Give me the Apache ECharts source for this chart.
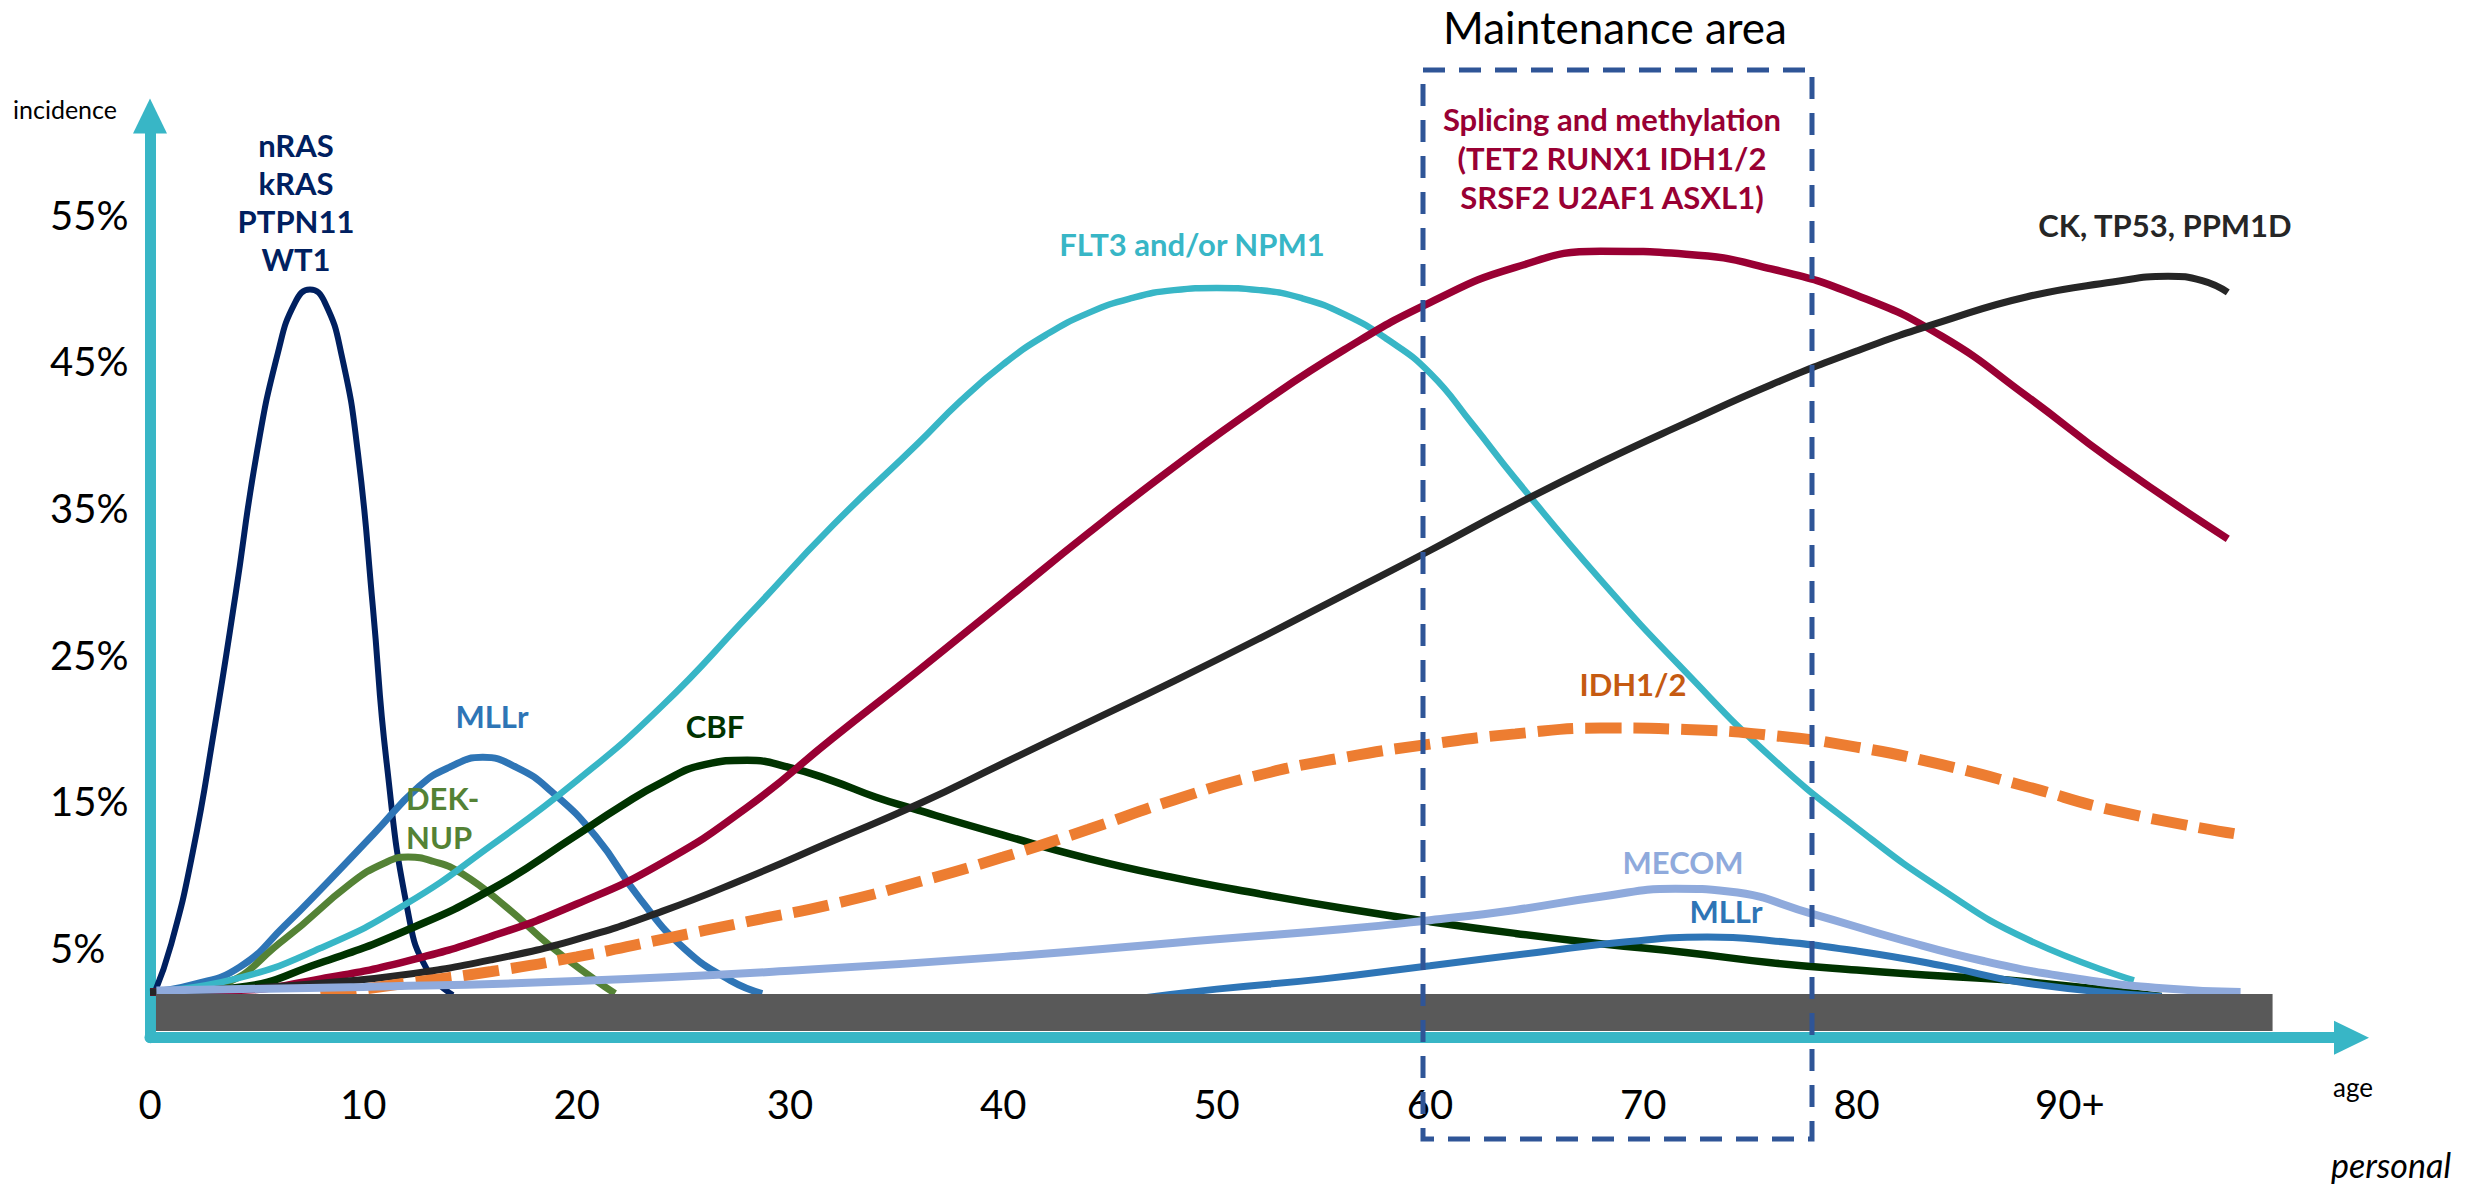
<!DOCTYPE html>
<html>
<head>
<meta charset="utf-8">
<script src="https://cdn.jsdelivr.net/npm/echarts@6/dist/echarts.min.js"></script>
<style>
html,body{margin:0;padding:0;background:#fff;}
#chart{width:2481px;height:1188px;}
</style>
</head>
<body>
<div id="chart"></div>
<script>
// ---- data (age, incidence %) ----
const xTickValues = [0, 10, 20, 30, 40, 50, 60, 70, 80, 90];
const xTickLabels = ['0', '10', '20', '30', '40', '50', '60', '70', '80', '90+'];
const yTickValues = [5, 15, 25, 35, 45, 55];

const rasData = [[0.2,1.9],[1,5.3],[2,11.5],[3,19.8],[4,29],[5,38.7],[6,45.6],[6.8,49],[7.5,49.9],[8.2,49],[9,45.3],[9.75,38.7],[10.45,28.2],[11.08,17.8],[12.1,7.4],[13,3.5],[14.2,1.8]];
const mllrEarly = [[0,2],[2,2.5],[4.2,3.7],[6.3,6.5],[8.4,9.6],[10.5,12.8],[12.6,16],[14,17.3],[15.6,18],[17.2,17.3],[18.8,15.7],[20.9,12.6],[23,8.3],[25.1,4.9],[27.2,2.8],[28.7,1.9]];
const dekNup = [[0.5,1.9],[3.1,2.4],[6.3,5.6],[9.4,9.4],[11,10.8],[12.1,11.2],[13.3,10.9],[14.6,10.1],[16.7,7.8],[18.8,5.1],[20.9,2.8],[21.8,1.9]];
const flt3 = [[0,2],[4,2.9],[8,5.0],[12,8.0],[16,12.0],[20,16.4],[24,21.5],[28,27.6],[32,33.8],[36,39.4],[38,42.3],[40,44.8],[42,46.8],[44,48.3],[46,49.3],[48,49.85],[50,50],[52,49.85],[54,49.3],[56,48.2],[58,46.5],[60,44.2],[62,40.7],[64,37.0],[68,30.1],[72,23.8],[76,18.0],[80,13.2],[84,9.0],[88,5.6],[93,2.8]];
const cbf = [[0,2],[4,2.3],[8,4.0],[12,6.2],[16,9.0],[20,12.7],[22,14.6],[24,16.3],[26,17.5],[28,17.8],[30,17.3],[32,16.4],[34,15.3],[36,14.4],[40,12.7],[44,11.1],[48,9.8],[52,8.7],[56,7.7],[60,6.8],[64,6.0],[68,5.3],[72,4.7],[76,4.0],[80,3.5],[84,3.1],[88,2.7],[94.3,1.7]];
const splicing = [[0,2],[4,2.1],[8,2.9],[12,4.1],[16,5.8],[20,8.0],[24,10.8],[28,14.6],[32,19.3],[36,23.9],[40,28.6],[44,33.3],[48,37.8],[52,42.0],[56,45.8],[60,49.0],[64,51.4],[68,52.5],[72,52.3],[76,51.3],[80,49.5],[84,46.7],[88,42.6],[92,38.2],[97.4,32.9]];
const ckTp53 = [[0,2],[4,2.2],[8,2.6],[12,3.2],[16,4.2],[20,5.6],[24,7.5],[28,9.8],[32,12.3],[36,14.8],[40,17.6],[44,20.4],[48,23.2],[52,26.1],[56,29.1],[60,32.1],[64,35.2],[68,38.1],[72,40.8],[76,43.4],[80,45.7],[84,47.7],[88,49.4],[92,50.4],[94.6,50.8],[96.2,50.5],[97.4,49.7]];
const idh = [[8,1.8],[12,2.6],[16,3.4],[20,4.4],[24,5.6],[28,6.8],[32,8.0],[36,9.5],[40,11.2],[44,13.1],[48,15.1],[52,16.8],[56,18.0],[60,18.9],[64,19.6],[68,20.0],[72,19.9],[76,19.5],[80,18.7],[84,17.5],[88,16.0],[92,14.4],[97.7,12.8]];
const mecom = [[0.3,2.1],[10,2.35],[20,2.75],[30,3.45],[40,4.4],[50,5.6],[56,6.3],[60,6.9],[64,7.6],[68,8.5],[71.5,9.05],[74,8.85],[78,7.3],[82,5.6],[86,4.1],[90,3.0],[94,2.3],[98,2.0]];
const mllrLate = [[46,1.5],[50,2.2],[55,2.9],[60,3.8],[65,4.7],[69,5.4],[73,5.75],[76,5.5],[80,4.8],[84,3.8],[88,2.6],[94.3,1.7]];
const baseBand = [[0.28, 99.5, -0.65, 1.87]]; // [xStart, xEnd, yLow, yHigh]

const TEAL = '#38B6C6';
const FONT = 'Lato, "Open Sans", sans-serif';

function lineSeries(name, data, color, width, z, dash) {
  return {
    name: name, type: 'line', data: data, smooth: 0.5, showSymbol: false,
    z: z, silent: true,
    lineStyle: { color: color, width: width, type: dash || 'solid', cap: 'butt' }
  };
}

const chart = echarts.init(document.getElementById('chart'), null, { renderer: 'svg' });

function txt(text, x, y, color, size, opts) {
  opts = opts || {};
  return {
    type: 'text', z: 100, x: x, y: y,
    style: {
      text: text, fill: color,
      font: (opts.style || 'normal') + ' ' + (opts.weight || 'normal') + ' ' + size + 'px ' + FONT,
      textAlign: opts.align || 'center', textVerticalAlign: 'middle',
      lineHeight: opts.lh || size * 1.2
    }
  };
}

chart.setOption({
  animation: false,
  backgroundColor: '#ffffff',
  grid: { left: 150, right: 129.5, top: 116, bottom: 150.3, containLabel: false, outerBoundsMode: 'none' },
  xAxis: {
    type: 'value', min: 0, max: 103.2,
    axisLine: { onZero: false, lineStyle: { color: TEAL, width: 11 }, symbol: ['none', 'triangle'], symbolSize: [34, 35] },
    axisTick: { show: false },
    splitLine: { show: false },
    axisLabel: {
      customValues: xTickValues,
      formatter: function (v) { const i = xTickValues.indexOf(v); return i >= 0 ? xTickLabels[i] : ''; },
      color: '#000', fontSize: 40, fontFamily: FONT, margin: 46
    }
  },
  yAxis: {
    type: 'value', min: -1.11, max: 61.72,
    axisLine: { onZero: false, lineStyle: { color: TEAL, width: 11 }, symbol: ['none', 'triangle'], symbolSize: [34, 35] },
    axisTick: { show: false },
    splitLine: { show: false },
    axisLabel: {
      customValues: yTickValues,
      formatter: function (v) { return v + '%'; },
      color: '#000', fontSize: 40, fontFamily: FONT, align: 'left', margin: 100
    }
  },
  series: [
    lineSeries('nRAS kRAS PTPN11 WT1', rasData, '#002060', 6, 3),
    lineSeries('MLLr', mllrEarly, '#2E75B6', 7, 3),
    lineSeries('DEK-NUP', dekNup, '#548235', 7, 3),
    lineSeries('FLT3 and/or NPM1', flt3, TEAL, 6.5, 3),
    lineSeries('CBF', cbf, '#003300', 7.5, 3),
    lineSeries('Splicing and methylation', splicing, '#990033', 7.5, 3),
    lineSeries('CK, TP53, PPM1D', ckTp53, '#262626', 7, 3),
    lineSeries('IDH1/2', idh, '#ED7D31', 11, 3, [36, 12]),
    lineSeries('MECOM', mecom, '#8FAADC', 8, 4),
    lineSeries('MLLr late', mllrLate, '#2E75B6', 7, 4),
    {
      type: 'custom', z: 20, silent: true, data: baseBand,
      renderItem: function (params, api) {
        const p1 = api.coord([api.value(0), api.value(3)]);
        const p2 = api.coord([api.value(1), api.value(2)]);
        return { type: 'rect', shape: { x: p1[0], y: p1[1], width: p2[0] - p1[0], height: p2[1] - p1[1] }, style: { fill: '#595959' } };
      }
    }
  ],
  graphic: [
    { type: 'rect', z: 90, silent: true, shape: { x: 1423, y: 70, width: 389, height: 1069 },
      style: { fill: 'none', stroke: '#2F5597', lineWidth: 5, lineDash: [22, 14] } },
    txt('Maintenance area', 1615, 27, '#000', 44),
    txt('incidence', 13, 109, '#000', 25, { align: 'left' }),
    txt('age', 2333, 1087, '#000', 26, { align: 'left' }),
    txt('personal', 2331, 1164, '#000', 34, { align: 'left', style: 'italic' }),
    txt('nRAS\nkRAS\nPTPN11\nWT1', 296, 202, '#002060', 31, { weight: 'bold', lh: 38 }),
    txt('MLLr', 492, 716, '#2E75B6', 31, { weight: 'bold' }),
    txt('CBF', 715, 726, '#003300', 31, { weight: 'bold' }),
    txt('DEK-\nNUP', 406, 817, '#548235', 31, { weight: 'bold', align: 'left', lh: 39 }),
    txt('FLT3 and/or NPM1', 1192, 244, TEAL, 31, { weight: 'bold' }),
    txt('Splicing and methylation\n(TET2 RUNX1 IDH1/2\nSRSF2 U2AF1 ASXL1)', 1612, 158, '#990033', 31, { weight: 'bold', lh: 39 }),
    txt('CK, TP53, PPM1D', 2165, 225, '#262626', 31, { weight: 'bold' }),
    txt('IDH1/2', 1633, 684, '#C55A11', 31, { weight: 'bold' }),
    txt('MECOM', 1683, 862, '#8FAADC', 31, { weight: 'bold' }),
    txt('MLLr', 1726, 911, '#2E75B6', 31, { weight: 'bold' })
  ]
});
</script>
</body>
</html>
